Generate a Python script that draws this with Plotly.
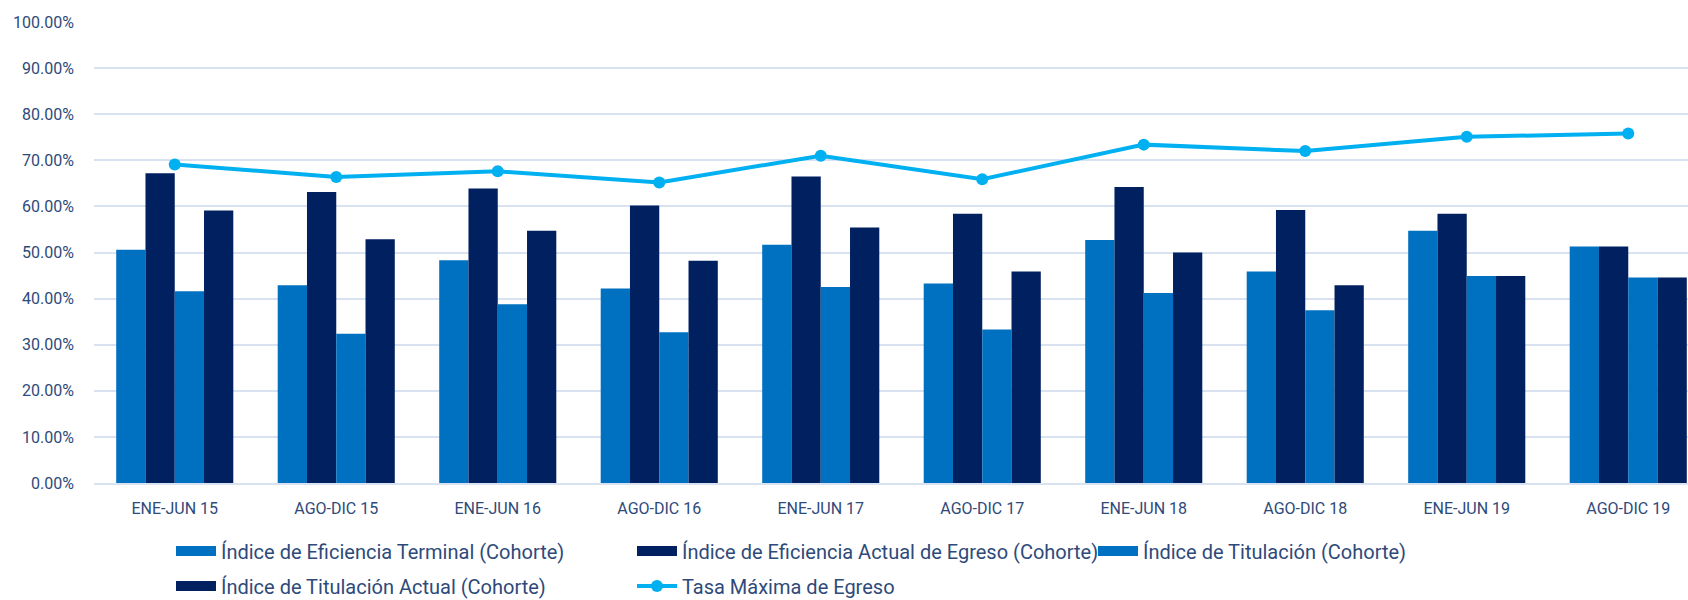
import plotly.graph_objects as go

categories = ["ENE-JUN 15", "AGO-DIC 15", "ENE-JUN 16", "AGO-DIC 16", "ENE-JUN 17",
              "AGO-DIC 17", "ENE-JUN 18", "AGO-DIC 18", "ENE-JUN 19", "AGO-DIC 19"]

eficiencia_terminal = [0.506, 0.429, 0.483, 0.422, 0.517, 0.433, 0.527, 0.459, 0.547, 0.513]
eficiencia_actual = [0.672, 0.631, 0.639, 0.602, 0.665, 0.584, 0.642, 0.592, 0.584, 0.513]
titulacion = [0.416, 0.324, 0.388, 0.327, 0.425, 0.333, 0.412, 0.375, 0.449, 0.446]
titulacion_actual = [0.591, 0.529, 0.547, 0.482, 0.554, 0.459, 0.500, 0.429, 0.449, 0.446]
tasa_maxima = [0.691, 0.664, 0.676, 0.652, 0.710, 0.659, 0.734, 0.720, 0.751, 0.758]

names = ["Índice de Eficiencia Terminal (Cohorte)",
         "Índice de Eficiencia Actual de Egreso (Cohorte)",
         "Índice de Titulación (Cohorte)",
         "Índice de Titulación Actual (Cohorte)",
         "Tasa Máxima de Egreso"]

LIGHT = "#0070C0"
DARK = "#002060"
LINE = "#00B0F0"
TEXT = "#2E4A7A"
GRID = "#D9E2F1"
FONT = "Roboto"

fig = go.Figure()
bar_specs = [(eficiencia_terminal, names[0], LIGHT, "legend"),
             (eficiencia_actual, names[1], DARK, "legend"),
             (titulacion, names[2], LIGHT, "legend"),
             (titulacion_actual, names[3], DARK, "legend2")]
for vals, name, col, lg in bar_specs:
    fig.add_trace(go.Bar(x=categories, y=vals, name=name, showlegend=False,
                         marker=dict(color=col, line=dict(width=0))))

# legend swatches (wide rectangles, as in the original legend)
for vals, name, col, lg in bar_specs:
    fig.add_trace(go.Scatter(x=[None], y=[None], name=name, legend=lg, mode="lines",
                             line=dict(color=col, width=10), hoverinfo="skip"))

fig.add_trace(go.Scatter(x=categories, y=tasa_maxima, name=names[4], mode="lines+markers",
                         legend="legend2",
                         line=dict(color=LINE, width=4),
                         marker=dict(color=LINE, size=12)))

legend_common = dict(orientation="h", xanchor="left", yanchor="middle",
                     yref="container", font=dict(size=20, color=TEXT, family=FONT),
                     itemwidth=40, entrywidth=406, entrywidthmode="pixels",
                     bgcolor="rgba(0,0,0,0)", borderwidth=0)

fig.update_layout(
    width=1688, height=600,
    margin=dict(l=94, r=0, t=22, b=117),
    paper_bgcolor="white", plot_bgcolor="white",
    barmode="group", bargap=0.275, bargroupgap=0,
    font=dict(family=FONT, color=TEXT, size=16),
    legend=dict(x=0.0483, y=0.0817, **legend_common),
    legend2=dict(x=0.0483, y=0.0233, **legend_common),
    xaxis=dict(range=[-0.5, 9.37], showgrid=False, showline=True, linecolor=GRID,
               linewidth=1.5, ticks="", tickfont=dict(size=16, color=TEXT),
               ticklabelstandoff=10, fixedrange=True),
    yaxis=dict(range=[0, 1], dtick=0.1, tickformat=".2%", showgrid=True,
               gridcolor=GRID, gridwidth=1.5, zeroline=False, showline=False,
               ticks="", tickfont=dict(size=16, color=TEXT), ticklabelstandoff=19),
)

fig.write_html("out.html", config={"displayModeBar": False},
               post_script="document.body.style.margin='0';document.body.style.overflow='hidden';")
